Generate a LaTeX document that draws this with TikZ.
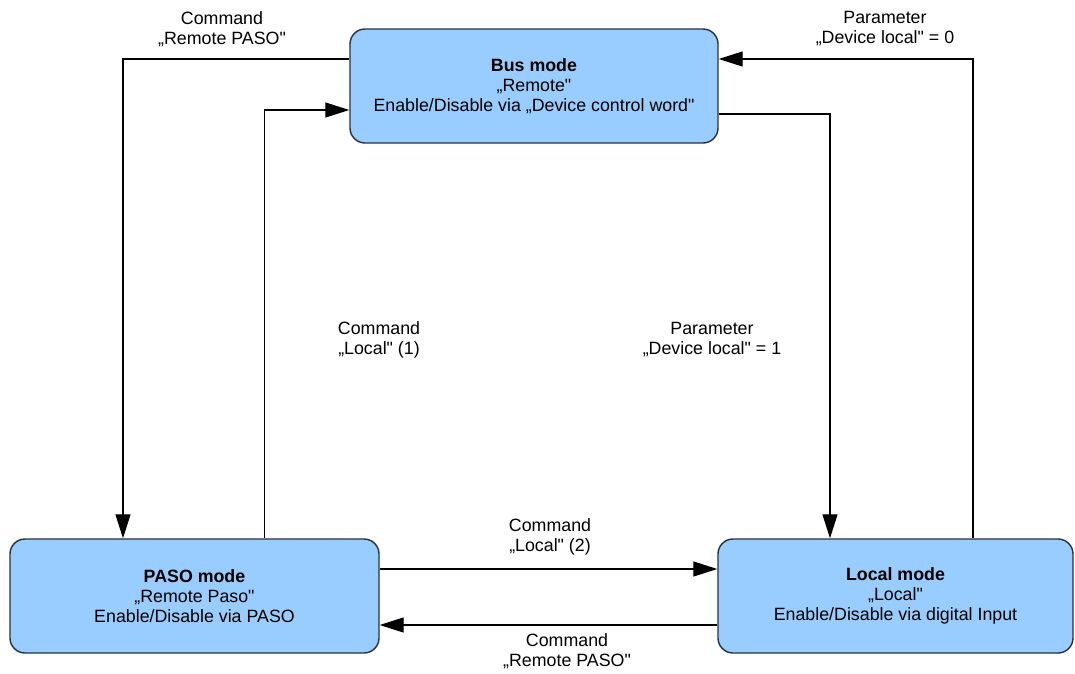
\documentclass[tikz,border=0pt]{standalone}
\usepackage{fontspec}
\newfontfamily\arialfont{Liberation Sans}
\usetikzlibrary{arrows.meta}
\definecolor{modefill}{HTML}{99CCFF}
\definecolor{modeline}{HTML}{26313F}
\begin{document}
\begin{tikzpicture}[x=1pt,y=-1pt,
  mode/.style={draw=modeline,line width=1.4pt,fill=modefill,rounded corners=15pt,
    minimum height=114pt,align=center,inner sep=0pt,
    font=\arialfont\fontsize{17.8}{20}\selectfont},
  lbl/.style={align=center,inner sep=0pt,font=\arialfont\fontsize{17.8}{20}\selectfont},
  arr/.style={line width=1.2pt,-{Triangle[length=24pt,width=15pt]}}]
\useasboundingbox (0,0) rectangle (1075,673);
% modes
\node[mode,minimum width=368pt] (bus) at (534,86)
  {\textbf{Bus mode}\\„Remote"\\Enable/Disable via „Device control word"};
\node[mode,minimum width=369pt] (paso) at (194.5,596)
  {\textbf{PASO mode}\\„Remote Paso"\\Enable/Disable via PASO};
\node[mode,minimum width=355pt] (local) at (895.5,596)
  {\textbf{Local mode}\\„Local"\\Enable/Disable via digital Input};
% transitions
\draw[arr] ([yshift=27pt]bus.west) -| ([xshift=-71.5pt]paso.north);
\draw[arr] ([xshift=70pt]paso.north) |- ([yshift=-24pt]bus.west);
\draw[arr] ([yshift=-28pt]bus.east) -| ([xshift=-65.5pt]local.north);
\draw[arr] ([xshift=77.5pt]local.north) |- ([yshift=27pt]bus.east);
\draw[arr] ([yshift=27pt]paso.east) -- ([yshift=27pt]local.west);
\draw[arr] ([yshift=-29pt]local.west) -- ([yshift=-29pt]paso.east);
% labels
\node[lbl] (toPaso) at (222,29) {Command\\„Remote PASO"};
\node[lbl] (toBus) at (379,340) {Command\\„Local" (1)};
\node[lbl] (toLocal) at (712,340) {Parameter\\„Device local" = 1};
\node[lbl] (toBusB) at (885,29) {Parameter\\„Device local" = 0};
\node[lbl] (toLocalB) at (550,537) {Command\\„Local" (2)};
\node[lbl] (toPasoB) at (567,651) {Command\\„Remote PASO"};
\end{tikzpicture}
\end{document}
